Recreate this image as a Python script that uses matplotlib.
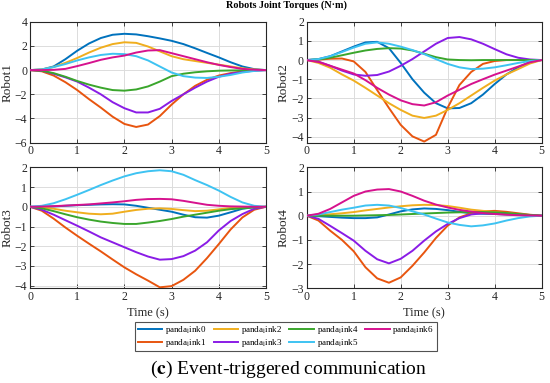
import matplotlib
matplotlib.use("Agg")
import matplotlib.pyplot as plt
import numpy as np

plt.rcParams['font.family'] = ['Liberation Serif', 'DejaVu Serif']
plt.rcParams['mathtext.fontset'] = 'stix'

t = [0, 0.25, 0.5, 0.75, 1.0, 1.25, 1.5, 1.75, 2.0, 2.25, 2.5, 2.75, 3.0,
     3.25, 3.5, 3.75, 4.0, 4.25, 4.5, 4.75, 5.0]

labels = ["panda$_{\\mathrm{l}}$ink0", "panda$_{\\mathrm{l}}$ink1", "panda$_{\\mathrm{l}}$ink2",
          "panda$_{\\mathrm{l}}$ink3", "panda$_{\\mathrm{l}}$ink4", "panda$_{\\mathrm{l}}$ink5",
          "panda$_{\\mathrm{l}}$ink6"]
colors = ["#0072BD", "#E8550F", "#F0AE1E", "#8A1CE6", "#3AA62C", "#3EC3F2", "#D6128E"]

# Robot1
r1_link0 = [0, 0.05, 0.3, 0.9, 1.6, 2.2, 2.65, 2.92, 3.0, 2.95, 2.8, 2.62, 2.42, 2.15, 1.8, 1.42, 1.05, 0.65, 0.3, 0.08, 0]
r1_link1 = [0, -0.1, -0.45, -1.0, -1.65, -2.4, -3.1, -3.85, -4.45, -4.7, -4.5, -3.8, -2.85, -2.0, -1.3, -0.8, -0.45, -0.25, -0.1, -0.03, 0]
r1_link2 = [0, 0.05, 0.25, 0.6, 1.0, 1.45, 1.85, 2.15, 2.3, 2.25, 1.95, 1.55, 1.15, 0.9, 0.75, 0.6, 0.45, 0.3, 0.15, 0.05, 0]
r1_link3 = [0, -0.05, -0.3, -0.6, -0.95, -1.45, -2.0, -2.65, -3.15, -3.5, -3.5, -3.2, -2.55, -2.0, -1.45, -0.95, -0.55, -0.3, -0.15, -0.05, 0]
r1_link4 = [0, -0.05, -0.25, -0.55, -0.9, -1.2, -1.45, -1.65, -1.7, -1.6, -1.35, -0.95, -0.5, -0.3, -0.18, -0.1, -0.05, -0.03, -0.02, 0, 0]
r1_link5 = [0, 0.05, 0.25, 0.5, 0.8, 1.05, 1.25, 1.35, 1.32, 1.15, 0.8, 0.3, -0.2, -0.5, -0.62, -0.65, -0.55, -0.4, -0.2, -0.07, 0]
r1_link6 = [0, 0.0, 0.02, 0.1, 0.33, 0.58, 0.85, 1.05, 1.2, 1.45, 1.62, 1.65, 1.4, 1.15, 0.9, 0.65, 0.43, 0.25, 0.1, 0.03, 0]

# Robot2
r2_link0 = [0, 0.05, 0.2, 0.45, 0.7, 0.92, 0.95, 0.62, -0.15, -1.0, -1.7, -2.25, -2.52, -2.5, -2.25, -1.8, -1.25, -0.75, -0.38, -0.1, 0]
r2_link1 = [0, 0.02, 0.07, 0.08, -0.07, -0.62, -1.57, -2.5, -3.38, -3.98, -4.25, -3.9, -2.48, -1.3, -0.62, -0.2, -0.05, 0.0, 0, 0, 0]
r2_link2 = [0, -0.15, -0.4, -0.75, -1.07, -1.45, -1.85, -2.25, -2.6, -2.9, -3.02, -2.9, -2.6, -2.25, -1.85, -1.45, -1.07, -0.75, -0.47, -0.18, 0]
r2_link3 = [0, -0.08, -0.3, -0.55, -0.75, -0.82, -0.78, -0.6, -0.3, 0.05, 0.45, 0.85, 1.15, 1.2, 1.08, 0.85, 0.57, 0.3, 0.12, 0.03, 0]
r2_link4 = [0, 0.03, 0.12, 0.25, 0.38, 0.5, 0.58, 0.62, 0.6, 0.5, 0.33, 0.15, 0.03, 0.0, -0.01, 0, 0, 0, 0, 0, 0]
r2_link5 = [0, 0.05, 0.2, 0.42, 0.65, 0.85, 0.92, 0.85, 0.7, 0.52, 0.31, 0.05, -0.2, -0.38, -0.47, -0.45, -0.38, -0.27, -0.15, -0.05, 0]
r2_link6 = [0, -0.1, -0.3, -0.5, -0.7, -1.05, -1.45, -1.8, -2.1, -2.3, -2.37, -2.2, -1.85, -1.55, -1.25, -1.0, -0.76, -0.55, -0.34, -0.12, 0]

# Robot3
r3_link0 = [0, 0.0, 0.02, 0.05, 0.08, 0.1, 0.12, 0.13, 0.12, 0.05, -0.05, -0.15, -0.25, -0.4, -0.53, -0.55, -0.45, -0.28, -0.1, -0.02, 0]
r3_link1 = [0, -0.2, -0.6, -1.05, -1.47, -1.87, -2.26, -2.67, -3.07, -3.42, -3.74, -4.08, -4.02, -3.7, -3.24, -2.6, -1.89, -1.15, -0.54, -0.15, 0]
r3_link2 = [0, -0.03, -0.1, -0.2, -0.28, -0.35, -0.38, -0.35, -0.25, -0.16, -0.1, -0.08, -0.11, -0.17, -0.22, -0.2, -0.13, -0.06, -0.02, 0, 0]
r3_link3 = [0, -0.15, -0.4, -0.68, -0.96, -1.25, -1.55, -1.8, -2.05, -2.3, -2.52, -2.68, -2.65, -2.5, -2.22, -1.8, -1.2, -0.72, -0.37, -0.1, 0]
r3_link4 = [0, -0.08, -0.22, -0.38, -0.53, -0.65, -0.75, -0.82, -0.87, -0.87, -0.8, -0.72, -0.62, -0.5, -0.4, -0.3, -0.2, -0.12, -0.08, -0.03, 0]
r3_link5 = [0, 0.05, 0.18, 0.38, 0.61, 0.85, 1.1, 1.33, 1.54, 1.7, 1.8, 1.85, 1.8, 1.62, 1.35, 1.1, 0.82, 0.5, 0.22, 0.05, 0]
r3_link6 = [0, 0.01, 0.03, 0.06, 0.09, 0.12, 0.17, 0.22, 0.28, 0.35, 0.39, 0.4, 0.38, 0.3, 0.2, 0.1, 0.05, 0.02, 0.01, 0, 0]

# Robot4
r4_link0 = [0, -0.02, -0.05, -0.08, -0.1, -0.1, -0.07, 0.05, 0.18, 0.26, 0.3, 0.28, 0.23, 0.16, 0.1, 0.08, 0.07, 0.05, 0.03, 0.01, 0]
r4_link1 = [0, -0.2, -0.62, -1.0, -1.47, -2.13, -2.59, -2.77, -2.55, -2.07, -1.52, -0.92, -0.41, -0.07, 0.1, 0.18, 0.2, 0.16, 0.1, 0.04, 0]
r4_link2 = [0, 0.02, 0.06, 0.1, 0.15, 0.22, 0.28, 0.34, 0.39, 0.43, 0.45, 0.44, 0.4, 0.33, 0.25, 0.2, 0.15, 0.1, 0.06, 0.02, 0]
r4_link3 = [0, -0.13, -0.42, -0.72, -1.03, -1.45, -1.8, -1.97, -1.78, -1.45, -1.03, -0.65, -0.34, -0.1, 0.05, 0.1, 0.1, 0.08, 0.05, 0.02, 0]
r4_link4 = [0, 0, 0, 0, 0, 0.01, 0.02, 0.03, 0.05, 0.07, 0.09, 0.11, 0.13, 0.14, 0.15, 0.15, 0.14, 0.11, 0.07, 0.03, 0]
r4_link5 = [0, 0.05, 0.15, 0.25, 0.33, 0.42, 0.45, 0.42, 0.32, 0.18, 0.05, -0.12, -0.28, -0.38, -0.44, -0.4, -0.32, -0.2, -0.1, -0.03, 0]
r4_link6 = [0, 0.08, 0.28, 0.55, 0.82, 1.0, 1.08, 1.1, 1.0, 0.82, 0.62, 0.46, 0.34, 0.24, 0.17, 0.11, 0.07, 0.04, 0.02, 0.01, 0]

robots = [
    ("Robot1", [r1_link0, r1_link1, r1_link2, r1_link3, r1_link4, r1_link5, r1_link6], (-6, 4), [-6, -4, -2, 0, 2, 4]),
    ("Robot2", [r2_link0, r2_link1, r2_link2, r2_link3, r2_link4, r2_link5, r2_link6], (-4.31, 2), [-4, -3, -2, -1, 0, 1, 2]),
    ("Robot3", [r3_link0, r3_link1, r3_link2, r3_link3, r3_link4, r3_link5, r3_link6], (-4.13, 2), [-4, -3, -2, -1, 0, 1, 2]),
    ("Robot4", [r4_link0, r4_link1, r4_link2, r4_link3, r4_link4, r4_link5, r4_link6], (-3, 2), [-3, -2, -1, 0, 1, 2]),
]

fig = plt.figure(figsize=(5.5, 3.83), dpi=100)
W, H = 550, 383
boxes = [(30, 21.7, 266, 142.7), (306.7, 21.7, 541.7, 142.7),
         (30, 167.3, 266, 288.3), (306.7, 167.3, 541.7, 288.3)]

lines = []
for i, (name, series, ylim, yt) in enumerate(robots):
    x0, y0, x1, y1 = boxes[i]
    ax = fig.add_axes([x0 / W, 1 - y1 / H, (x1 - x0) / W, (y1 - y0) / H])
    for j, s in enumerate(series):
        ln, = ax.plot(t, s, color=colors[j], lw=1.4, label=labels[j], zorder=3 + (j == 6))
        if i == 0:
            lines.append(ln)
    ax.set_xlim(0, 5)
    ax.set_ylim(*ylim)
    ax.set_xticks([0, 1, 2, 3, 4, 5])
    ax.set_yticks(yt)
    ax.grid(True, color="#dcdcdc", lw=0.7)
    ax.set_axisbelow(True)
    ax.tick_params(direction="in", top=True, right=True, length=3, width=0.6,
                   labelsize=8.5, pad=2, colors="#262626")
    for sp in ax.spines.values():
        sp.set_color("#262626")
        sp.set_linewidth(0.8)
    ax.set_ylabel(name, fontsize=9.5, labelpad=1, color="#262626")
    if i >= 2:
        ax.set_xlabel("Time (s)", fontsize=9, labelpad=3, color="#262626")

fig.text(287 / W, 1 - 5.5 / H, "Robots Joint Torques (N\u00b7m)", ha="center", va="center",
         fontsize=7.3, fontweight="bold")

leg = fig.legend(handles=lines, labels=labels, ncol=4, loc="center",
                 bbox_to_anchor=(286 / W, 1 - 336.5 / H), fontsize=6.5,
                 frameon=True, fancybox=False, edgecolor="#262626",
                 handlelength=2.7, handletextpad=0.3, columnspacing=0.8,
                 labelspacing=0.05, borderpad=0.3)
leg.get_frame().set_linewidth(0.8)

fig.text(288 / W, 1 - 369 / H, "($\\mathbf{c}$) Event-triggered communication", ha="center",
         va="center", fontsize=14)

fig.savefig("out.png", dpi=100)
